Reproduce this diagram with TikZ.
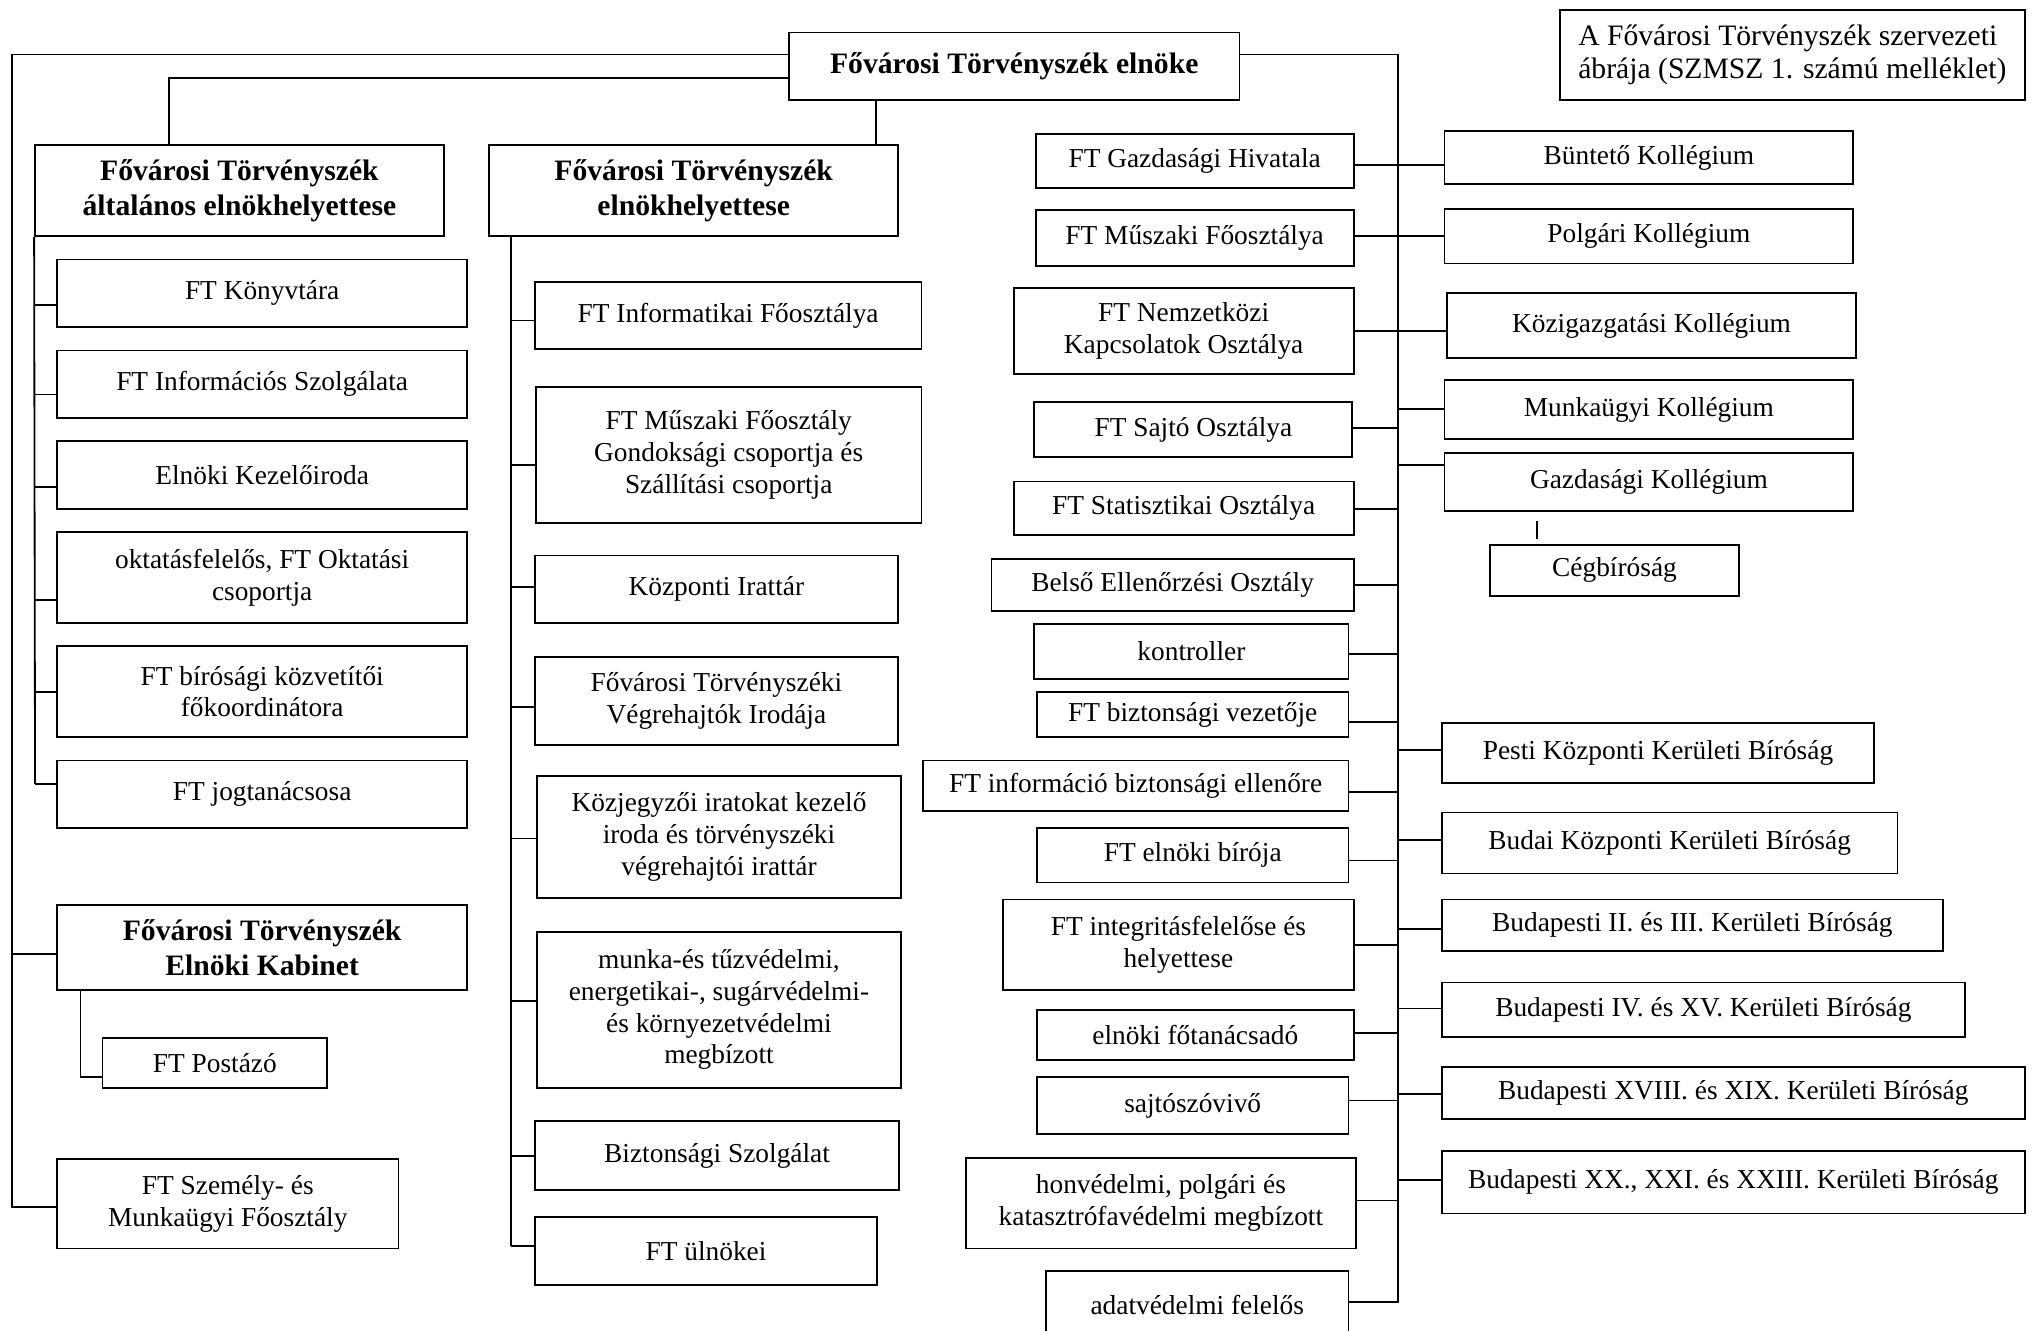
\documentclass[tikz,border=0pt]{standalone}
\usepackage{fontspec}
\setmainfont{Liberation Serif}
\tikzset{
  box/.style={draw, line width=0.8pt, inner sep=0pt, align=center, font=\fontsize{12}{13.9}\selectfont},
  tbox/.style={box, font=\fontsize{13}{15.2}\selectfont\bfseries},
  lbox/.style={box, align=left, font=\fontsize{13}{14.5}\selectfont},
  conn/.style={line width=0.8pt},
}
\newcommand{\mybox}[7]{\node[#1, minimum width={(#5-#3)*0.02cm}, minimum height={(#6-#4)*0.02cm}] (#2) at ({(#3+#5)/2},{(#4+#6)/2}) {#7};}
\begin{document}
\begin{tikzpicture}[x=0.02cm, y=-0.02cm]
\useasboundingbox (0,0) rectangle (1568,1025);
% top
\mybox{tbox}{pres}{608}{25}{955}{77}{Fővárosi Törvényszék elnöke}
\mybox{lbox}{title}{1202}{8}{1560}{77}{A Fővárosi Törvényszék szervezeti\\ábrája (SZMSZ 1. számú melléklet)}
\mybox{tbox}{gd}{27}{112}{342}{182}{Fővárosi Törvényszék\\általános elnökhelyettese}
\mybox{tbox}{dep}{377}{112}{692}{182}{Fővárosi Törvényszék\\elnökhelyettese}
% left column
\mybox{box}{l1}{44}{200}{360}{252}{FT Könyvtára}
\mybox{box}{l2}{44}{270}{360}{322}{FT Információs Szolgálata}
\mybox{box}{l3}{44}{340}{360}{392}{Elnöki Kezelőiroda}
\mybox{box}{l4}{44}{410}{360}{480}{oktatásfelelős, FT Oktatási\\csoportja}
\mybox{box}{l5}{44}{498}{360}{568}{FT bírósági közvetítői\\főkoordinátora}
\mybox{box}{l6}{44}{586}{360}{638}{FT jogtanácsosa}
\mybox{tbox}{kab}{44}{697}{360}{763}{Fővárosi Törvényszék\\Elnöki Kabinet}
\mybox{box}{post}{79}{800}{252}{838}{FT Postázó}
\mybox{box}{szem}{44}{893}{307}{962}{FT Személy- és\\Munkaügyi Főosztály}
% middle column
\mybox{box}{m1}{412}{217}{710}{269}{FT Informatikai Főosztálya}
\mybox{box}{m2}{413}{298}{710}{403}{FT Műszaki Főosztály\\Gondoksági csoportja és\\Szállítási csoportja}
\mybox{box}{m3}{412}{428}{692}{480}{Központi Irattár}
\mybox{box}{m4}{412}{506}{692}{574}{Fővárosi Törvényszéki\\Végrehajtók Irodája}
\mybox{box}{m5}{414}{598}{694}{692}{Közjegyzői iratokat kezelő\\iroda és törvényszéki\\végrehajtói irattár}
\mybox{box}{m6}{414}{718}{694}{838}{munka-és tűzvédelmi,\\energetikai-, sugárvédelmi-\\és környezetvédelmi\\megbízott}
\mybox{box}{m7}{412}{864}{693}{917}{Biztonsági Szolgálat}
\mybox{box}{m8}{412}{938}{676}{990}{FT ülnökei}
% right-middle column
\mybox{box}{r1}{798}{103}{1043}{145}{FT Gazdasági Hivatala}
\mybox{box}{r2}{798}{162}{1043}{205}{FT Műszaki Főosztálya}
\mybox{box}{r3}{781}{222}{1043}{288}{FT Nemzetközi\\Kapcsolatok Osztálya}
\mybox{box}{r4}{797}{310}{1042}{352}{FT Sajtó Osztálya}
\mybox{box}{r5}{781}{371}{1043}{412}{FT Statisztikai Osztálya}
\mybox{box}{r6}{764}{431}{1043}{471}{Belső Ellenőrzési Osztály}
\mybox{box}{r7}{797}{481}{1039}{523}{kontroller}
\mybox{box}{r8}{799}{533}{1039}{568}{FT biztonsági vezetője}
\mybox{box}{r9}{711}{586}{1039}{625}{FT információ biztonsági ellenőre}
\mybox{box}{r10}{799}{638}{1039}{680}{FT elnöki bírója}
\mybox{box}{r11}{773}{693}{1043}{763}{FT integritásfelelőse és\\helyettese}
\mybox{box}{r12}{799}{778}{1043}{817}{elnöki főtanácsadó}
\mybox{box}{r13}{799}{830}{1039}{874}{sajtószóvivő}
\mybox{box}{r14}{744}{892}{1045}{962}{honvédelmi, polgári és\\katasztrófavédelmi megbízott}
\mybox{box}{r15}{806}{979}{1039}{1032}{adatvédelmi felelős}
% right column
\mybox{box}{k1}{1113}{101}{1428}{142}{Büntető Kollégium}
\mybox{box}{k2}{1113}{161}{1428}{203}{Polgári Kollégium}
\mybox{box}{k3}{1115}{226}{1430}{276}{Közigazgatási Kollégium}
\mybox{box}{k4}{1113}{293}{1428}{338}{Munkaügyi Kollégium}
\mybox{box}{k5}{1113}{349}{1428}{394}{Gazdasági Kollégium}
\mybox{box}{ceg}{1148}{420}{1340}{459}{Cégbíróság}
\mybox{box}{b1}{1111}{557}{1444}{603}{Pesti Központi Kerületi Bíróság}
\mybox{box}{b2}{1111}{626}{1462}{673}{Budai Központi Kerületi Bíróság}
\mybox{box}{b3}{1111}{693}{1497}{733}{Budapesti II. és III. Kerületi Bíróság}
\mybox{box}{b4}{1111}{757}{1514}{799}{Budapesti IV. és XV. Kerületi Bíróság}
\mybox{box}{b5}{1111}{822}{1560}{862}{Budapesti XVIII. és XIX. Kerületi Bíróság}
\mybox{box}{b6}{1111}{887}{1560}{935}{Budapesti XX., XXI. és XXIII. Kerületi Bíróság}
% connectors from the president
\draw[conn] (pres.west |- 0,42) -| (9,930) -- (szem.west |- 0,930);
\draw[conn] (9,735) -- (kab.west |- 0,735);
\draw[conn] (pres.west |- 0,60) -| (gd.north -| 130,0);
\draw[conn] (pres.south -| 675,0) -- (dep.north -| 675,0);
\draw[conn] (pres.east |- 0,42) -| (1077,1003) -- (r15.east |- 0,1003);
% left children
\draw[conn] (gd.south west) -- (27,604);
\foreach \n/\yy in {l1/235,l2/304,l3/375,l4/462,l5/533,l6/604}
  \draw[conn] (27,\yy) -- (\n.west |- 0,\yy);
\draw[conn] (kab.south -| 62,0) |- (post.west |- 0,830);
% middle children
\draw[conn] (dep.south -| 394,0) -- (394,960);
\foreach \n/\yy in {m1/247,m2/358,m3/452,m4/545,m5/646,m6/771,m7/891,m8/960}
  \draw[conn] (394,\yy) -- (\n.west |- 0,\yy);
% right-middle children
\draw[conn] (r1.east |- 0,127) -- (k1.west |- 0,127);
\draw[conn] (r2.east |- 0,182) -- (k2.west |- 0,182);
\foreach \n/\yy in {r3/255,r4/330,r5/392,r6/451,r7/504,r8/556,r9/610,r10/663,r11/728,r12/796,r13/848,r14/925}
  \draw[conn] (\n.east |- 0,\yy) -- (1077,\yy);
\foreach \n/\yy in {k3/255,k4/315,k5/358,b1/578,b2/647,b3/716,b4/777,b5/843,b6/909}
  \draw[conn] (1077,\yy) -- (\n.west |- 0,\yy);
\draw[conn, shorten <=0.14cm, shorten >=0.08cm] (k5.south -| 1184,0) -- (ceg.north -| 1184,0);
\end{tikzpicture}
\end{document}
